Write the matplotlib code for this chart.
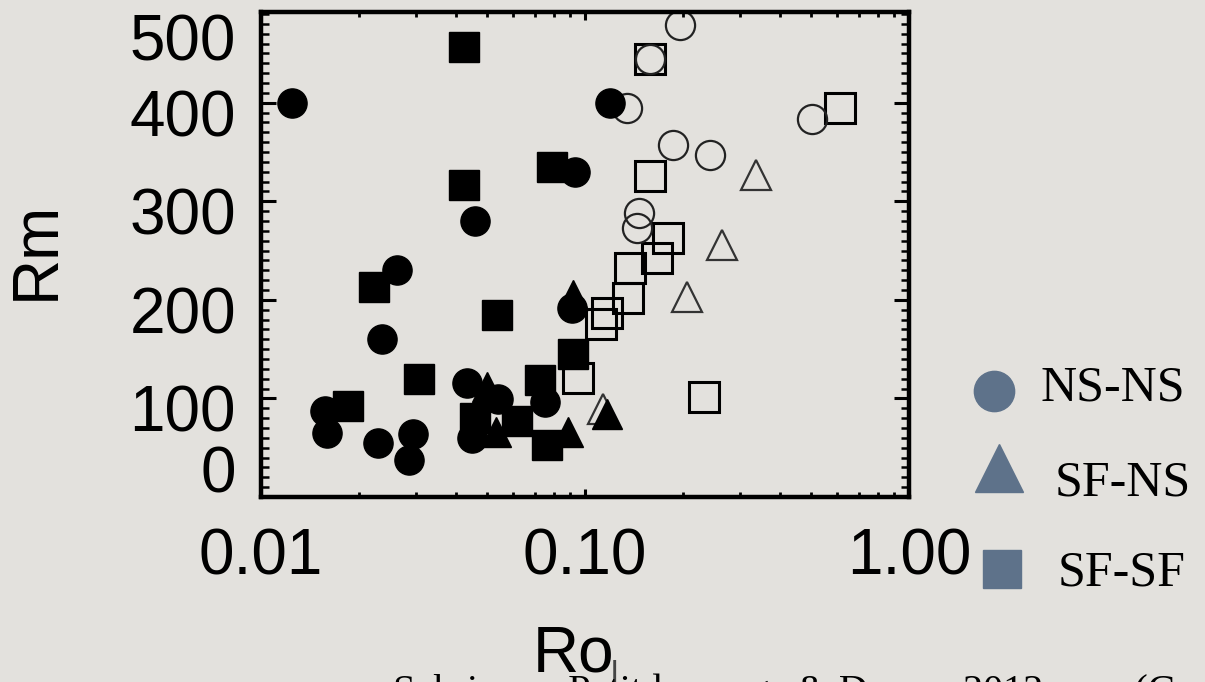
import numpy as np
import matplotlib.pyplot as plt
from matplotlib.ticker import MultipleLocator, FixedLocator, LogLocator, NullFormatter
from matplotlib.transforms import ScaledTranslation

# dipolar (filled) and multipolar (open) runs, Ro_l vs Rm
nsns_dip_ro = [0.0125, 0.1195, 0.0931, 0.0457, 0.0263, 0.0236, 0.0912, 0.0432, 0.0158,
               0.0160, 0.0230, 0.0294, 0.0286, 0.0448, 0.0539, 0.0753]
nsns_dip_rm = [400, 400, 330, 280, 230, 160, 192, 116, 87, 65, 55, 64, 38, 60, 99, 96]

sfsf_dip_ro = [0.0423, 0.0791, 0.0423, 0.0223, 0.0535, 0.0918, 0.0307, 0.0726, 0.0185,
               0.0458, 0.0617, 0.0763]
sfsf_dip_rm = [456, 335, 316, 213, 185, 145, 120, 119, 92, 80, 77, 53]

sfns_dip_ro = [0.0499, 0.0533, 0.0886, 0.117, 0.092]
sfns_dip_rm = [112, 66, 66, 84, 205]

nsns_mul_ro = [0.1965, 0.1587, 0.1348, 0.502, 0.187, 0.243, 0.1468, 0.1446]
nsns_mul_rm = [479, 444, 395, 383, 357, 347, 288, 273]

sfsf_mul_ro = [0.1587, 0.612, 0.1587, 0.180, 0.1668, 0.1376, 0.1358, 0.117, 0.112, 0.233, 0.0952]
sfsf_mul_rm = [444, 395, 326, 263, 242, 232, 202, 187, 175, 101, 121]

sfns_mul_ro = [0.337, 0.265, 0.2065, 0.114]
sfns_mul_rm = [327, 256, 203, 89]

legend_labels = ["NS-NS", "SF-NS", "SF-SF"]

bg = "#e3e1dd"
W, H = 1205, 682
fig = plt.figure(figsize=(W / 100, H / 100), dpi=100, facecolor=bg)
ax = fig.add_axes([261 / W, 1 - 497 / H, (909 - 261) / W, (497 - 12) / H])
ax.set_facecolor(bg)

ax.set_xscale("log")
ax.set_xlim(0.01, 1.0)
ax.set_ylim(0, 492)

# open symbols first, filled on top
ax.plot(sfsf_mul_ro, sfsf_mul_rm, "s", ms=22, mfc="none", mec="black", mew=2.2, ls="none")
ax.plot(nsns_mul_ro, nsns_mul_rm, "o", ms=21, mfc="none", mec="#222222", mew=1.6, ls="none")
ax.plot(sfns_mul_ro, sfns_mul_rm, "^", ms=22, mfc="none", mec="#333333", mew=1.6, ls="none")
ax.plot(sfns_dip_ro, sfns_dip_rm, "^", ms=22, mfc="black", mec="black", ls="none")
ax.plot(nsns_dip_ro, nsns_dip_rm, "o", ms=21, mfc="black", mec="black", ls="none")
ax.plot(sfsf_dip_ro, sfsf_dip_rm, "s", ms=22, mfc="black", mec="black", ls="none")

for s in ax.spines.values():
    s.set_linewidth(3.2)

sans = "Liberation Sans"
fs = 46

ax.xaxis.set_major_locator(FixedLocator([0.01, 0.1, 1.0]))
ax.xaxis.set_minor_locator(LogLocator(base=10, subs=np.arange(2, 10)))
ax.xaxis.set_minor_formatter(NullFormatter())
ax.set_xticklabels(["0.01", "0.10", "1.00"], fontfamily=sans, fontsize=fs)
ax.tick_params(axis="x", which="major", direction="in", top=True, length=6, width=2.2, pad=22)
ax.tick_params(axis="x", which="minor", direction="in", top=True, length=3.5, width=2)

ax.yaxis.set_major_locator(FixedLocator([100, 200, 300, 400]))
ax.yaxis.set_minor_locator(MultipleLocator(10))
ax.set_yticklabels(["100", "200", "300", "400"], fontfamily=sans, fontsize=fs)
ax.tick_params(axis="y", which="major", direction="in", right=True, length=11, width=2.2, pad=18)
ax.tick_params(axis="y", which="minor", direction="in", right=True, length=5.5, width=1.8)
for lab in ax.get_yticklabels():
    lab.set_transform(lab.get_transform() + ScaledTranslation(0, -10 / 100, fig.dpi_scale_trans))

# end labels sit inside the frame in the original
yl = ax.get_yaxis_transform()
ax.text(-0.0385, 460, "500", transform=yl, ha="right", va="center", fontfamily=sans, fontsize=fs)
ax.text(-0.0385, 22, "0", transform=yl, ha="right", va="center", fontfamily=sans, fontsize=fs)

fig.text(37 / W, 1 - 250 / H, "Rm", rotation=90, ha="center", va="center",
         fontfamily=sans, fontsize=fs)
fig.text(574 / W, 1 - 672 / H, "Ro", ha="center", va="baseline", fontfamily=sans, fontsize=fs)
fig.text(614 / W, 1 - 684 / H, "l", ha="center", va="baseline", fontfamily=sans,
         fontsize=24, color="#444444")

# legend drawn in pixel space on the right
lg = fig.add_axes([0, 0, 1, 1], facecolor="none")
lg.set_xlim(0, W)
lg.set_ylim(H, 0)
lg.axis("off")
slate = "#5e728a"
lg.plot([994], [391], "o", ms=29, color=slate)
lg.plot([999], [468], "^", ms=35, color=slate)
lg.plot([1002], [569], "s", ms=27, color=slate)
serif = "Liberation Serif"
for lab, y, x in zip(legend_labels, [388, 483, 573], [1040, 1055, 1058]):
    lg.text(x, y, lab, ha="left", va="center", fontfamily=serif, fontsize=36)

# caption cut by the bottom edge
fig.text(393 / W, 1 - 702 / H, "Schrinner, Petitdemange & Dormy 2012         (Geophys. J. 2012)",
         ha="left", va="baseline", fontfamily=serif, fontsize=29)

fig.savefig("out.png", dpi=100, facecolor=bg)
